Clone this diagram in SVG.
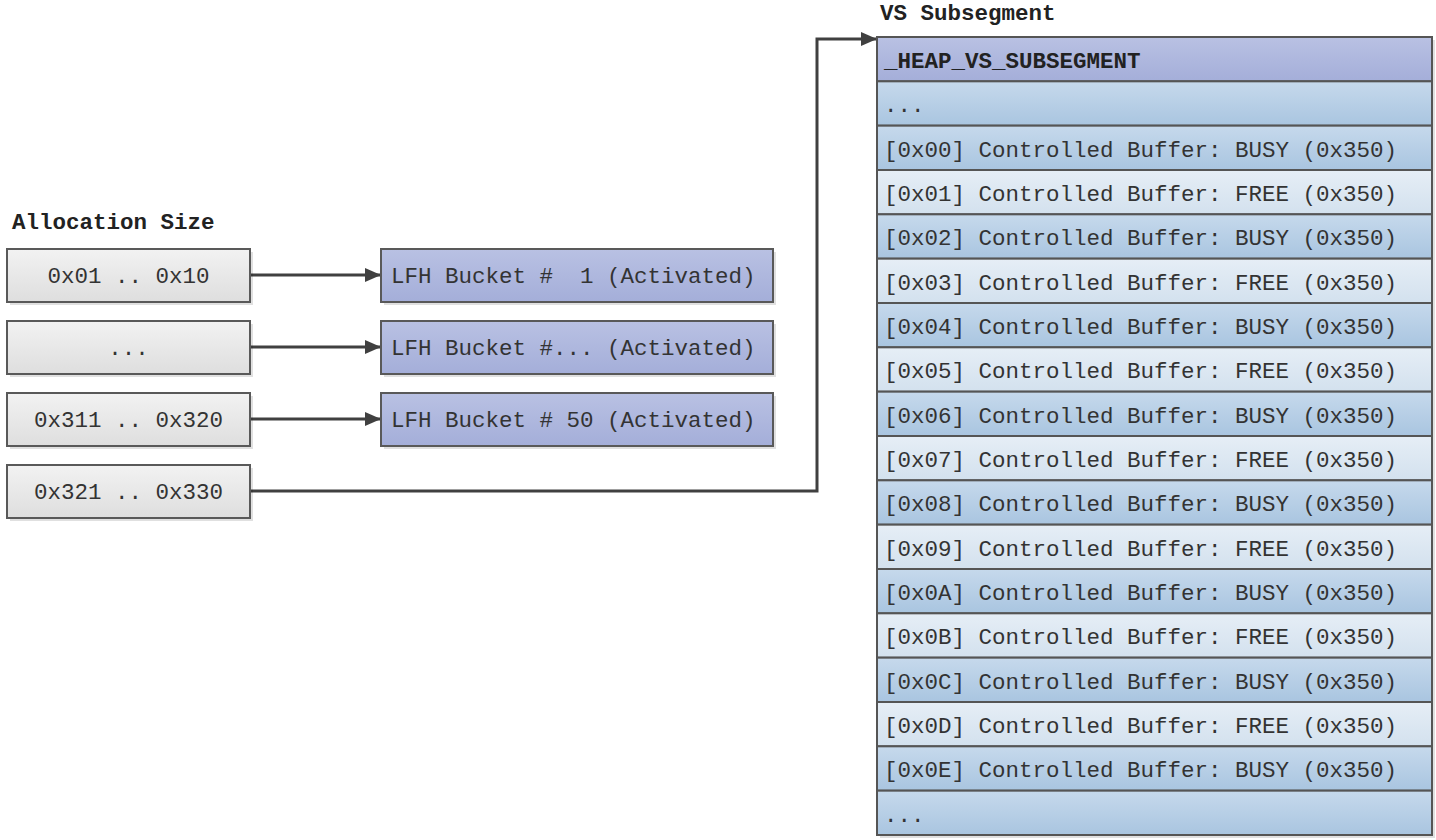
<svg xmlns="http://www.w3.org/2000/svg" width="1436" height="840" viewBox="0 0 1436 840">
<defs>
<linearGradient id="gGray" x1="0" y1="0" x2="0" y2="1"><stop offset="0" stop-color="#f2f2f2"/><stop offset="1" stop-color="#dedede"/></linearGradient>
<linearGradient id="gLav" x1="0" y1="0" x2="0" y2="1"><stop offset="0" stop-color="#b9c1e3"/><stop offset="1" stop-color="#a4aed9"/></linearGradient>
<linearGradient id="gBusy" x1="0" y1="0" x2="0" y2="1"><stop offset="0" stop-color="#c6d9ec"/><stop offset="1" stop-color="#a9c5e0"/></linearGradient>
<linearGradient id="gFree" x1="0" y1="0" x2="0" y2="1"><stop offset="0" stop-color="#e6eef6"/><stop offset="1" stop-color="#d3e1ee"/></linearGradient>
<marker id="arr" markerWidth="16" markerHeight="14" refX="15" refY="7" orient="auto" markerUnits="userSpaceOnUse"><path d="M0,0 L16,7 L0,14 z" fill="#404040"/></marker>
</defs>
<style>
text{font-family:"Liberation Mono","DejaVu Sans Mono",monospace;font-size:22.5px;fill:#333;white-space:pre}
.t{font-weight:bold;fill:#222}
.box{stroke:#595959;stroke-width:2}
.row{stroke:#555;stroke-width:2}
.sh{fill:#000;opacity:0.12}
.c{fill:none;stroke:#404040;stroke-width:3}
</style>
<rect width="1436" height="840" fill="#fff"/>
<text class="t" x="12" y="229">Allocation Size</text>
<text class="t" x="880" y="20">VS Subsegment</text>

<g id="connectors">
<line class="c" x1="251" y1="275" x2="380" y2="275" marker-end="url(#arr)"/>
<line class="c" x1="251" y1="347" x2="380" y2="347" marker-end="url(#arr)"/>
<line class="c" x1="251" y1="419" x2="380" y2="419" marker-end="url(#arr)"/>
<polyline class="c" points="251,491 817,491 817,39 876,39" marker-end="url(#arr)"/>
</g>

<g id="size1"><rect class="sh" x="10" y="252" width="243" height="53"/><rect class="box" x="7" y="249" width="243" height="53" fill="url(#gGray)"/><text x="128.5" y="283" text-anchor="middle">0x01 .. 0x10</text></g>
<g id="size2"><rect class="sh" x="10" y="324" width="243" height="53"/><rect class="box" x="7" y="321" width="243" height="53" fill="url(#gGray)"/><text x="128.5" y="355" text-anchor="middle">...</text></g>
<g id="size3"><rect class="sh" x="10" y="396" width="243" height="53"/><rect class="box" x="7" y="393" width="243" height="53" fill="url(#gGray)"/><text x="128.5" y="427" text-anchor="middle">0x311 .. 0x320</text></g>
<g id="size4"><rect class="sh" x="10" y="468" width="243" height="53"/><rect class="box" x="7" y="465" width="243" height="53" fill="url(#gGray)"/><text x="128.5" y="499" text-anchor="middle">0x321 .. 0x330</text></g>

<g id="lfh1"><rect class="sh" x="384" y="252" width="392" height="53"/><rect class="box" x="381" y="249" width="392" height="53" fill="url(#gLav)"/><text x="391" y="283">LFH Bucket #  1 (Activated)</text></g>
<g id="lfh2"><rect class="sh" x="384" y="324" width="392" height="53"/><rect class="box" x="381" y="321" width="392" height="53" fill="url(#gLav)"/><text x="391" y="355">LFH Bucket #... (Activated)</text></g>
<g id="lfh3"><rect class="sh" x="384" y="396" width="392" height="53"/><rect class="box" x="381" y="393" width="392" height="53" fill="url(#gLav)"/><text x="391" y="427">LFH Bucket # 50 (Activated)</text></g>

<g id="vs-subsegment">
<rect class="sh" x="880" y="40" width="555" height="798"/>
<rect class="row" x="877" y="37" width="555" height="44.33" fill="url(#gLav)"/>
<text class="t" x="884" y="68">_HEAP_VS_SUBSEGMENT</text>
<rect class="row" x="877" y="81.33" width="555" height="44.33" fill="url(#gBusy)"/>
<text x="884" y="112">...</text>
<rect class="row" x="877" y="125.67" width="555" height="44.33" fill="url(#gBusy)"/><text x="884" y="157">[0x00] Controlled Buffer: BUSY (0x350)</text>
<rect class="row" x="877" y="170" width="555" height="44.33" fill="url(#gFree)"/><text x="884" y="201">[0x01] Controlled Buffer: FREE (0x350)</text>
<rect class="row" x="877" y="214.33" width="555" height="44.33" fill="url(#gBusy)"/><text x="884" y="245">[0x02] Controlled Buffer: BUSY (0x350)</text>
<rect class="row" x="877" y="258.67" width="555" height="44.33" fill="url(#gFree)"/><text x="884" y="290">[0x03] Controlled Buffer: FREE (0x350)</text>
<rect class="row" x="877" y="303" width="555" height="44.33" fill="url(#gBusy)"/><text x="884" y="334">[0x04] Controlled Buffer: BUSY (0x350)</text>
<rect class="row" x="877" y="347.33" width="555" height="44.33" fill="url(#gFree)"/><text x="884" y="378">[0x05] Controlled Buffer: FREE (0x350)</text>
<rect class="row" x="877" y="391.67" width="555" height="44.33" fill="url(#gBusy)"/><text x="884" y="423">[0x06] Controlled Buffer: BUSY (0x350)</text>
<rect class="row" x="877" y="436" width="555" height="44.33" fill="url(#gFree)"/><text x="884" y="467">[0x07] Controlled Buffer: FREE (0x350)</text>
<rect class="row" x="877" y="480.33" width="555" height="44.33" fill="url(#gBusy)"/><text x="884" y="511">[0x08] Controlled Buffer: BUSY (0x350)</text>
<rect class="row" x="877" y="524.67" width="555" height="44.33" fill="url(#gFree)"/><text x="884" y="556">[0x09] Controlled Buffer: FREE (0x350)</text>
<rect class="row" x="877" y="569" width="555" height="44.33" fill="url(#gBusy)"/><text x="884" y="600">[0x0A] Controlled Buffer: BUSY (0x350)</text>
<rect class="row" x="877" y="613.33" width="555" height="44.33" fill="url(#gFree)"/><text x="884" y="644">[0x0B] Controlled Buffer: FREE (0x350)</text>
<rect class="row" x="877" y="657.67" width="555" height="44.33" fill="url(#gBusy)"/><text x="884" y="689">[0x0C] Controlled Buffer: BUSY (0x350)</text>
<rect class="row" x="877" y="702" width="555" height="44.33" fill="url(#gFree)"/><text x="884" y="733">[0x0D] Controlled Buffer: FREE (0x350)</text>
<rect class="row" x="877" y="746.33" width="555" height="44.33" fill="url(#gBusy)"/><text x="884" y="777">[0x0E] Controlled Buffer: BUSY (0x350)</text>
<rect class="row" x="877" y="790.67" width="555" height="44.33" fill="url(#gBusy)"/><text x="884" y="822">...</text>
</g>
</svg>
